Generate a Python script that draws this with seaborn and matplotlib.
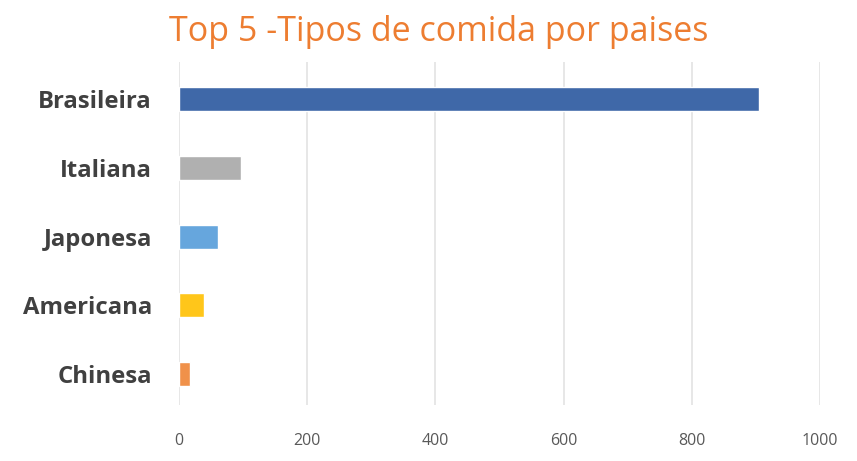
import pandas as pd
import matplotlib.pyplot as plt
import seaborn as sns

tipos = ['Brasileira', 'Italiana', 'Japonesa', 'Americana', 'Chinesa']
quantidade = [905, 97, 61, 39, 17]
cores = ['#3F68A8', '#B0B0B0', '#66A6DD', '#FFC61A', '#F0914A']

df = pd.DataFrame({'Tipo': tipos, 'Quantidade': quantidade})

sns.set_style('white')
plt.rcParams['font.family'] = ['Open Sans', 'DejaVu Sans']

fig = plt.figure(figsize=(8.57, 4.61), dpi=100)
ax = fig.add_axes([179 / 857, 1 - 405 / 461, 641 / 857, 343 / 461])

sns.barplot(data=df, x='Quantidade', y='Tipo', hue='Tipo', palette=cores,
            legend=False, orient='h', width=0.35, saturation=1, ax=ax)

ax.set_xlim(0, 1000)
ax.set_ylim(4.45, -0.54)
ax.set_xticks([0, 200, 400, 600, 800, 1000])
ax.grid(axis='x', color='#E3E3E3', linewidth=1.2)
ax.set_axisbelow(True)
for s in ax.spines.values():
    s.set_visible(False)
ax.set_xlabel('')
ax.set_ylabel('')
ax.tick_params(axis='y', length=0, pad=19.5, labelsize=17.2, labelcolor='#404040')
ax.tick_params(axis='x', length=0, pad=20, labelsize=11.5, labelcolor='#595959')
for t in ax.get_yticklabels():
    t.set_fontweight('bold')

fig.text(0.512, 0.93, 'Top 5 -Tipos de comida por paises', ha='center', va='center',
         fontsize=24.5, color='#ED7D31')

fig.savefig('out.png', dpi=100)
